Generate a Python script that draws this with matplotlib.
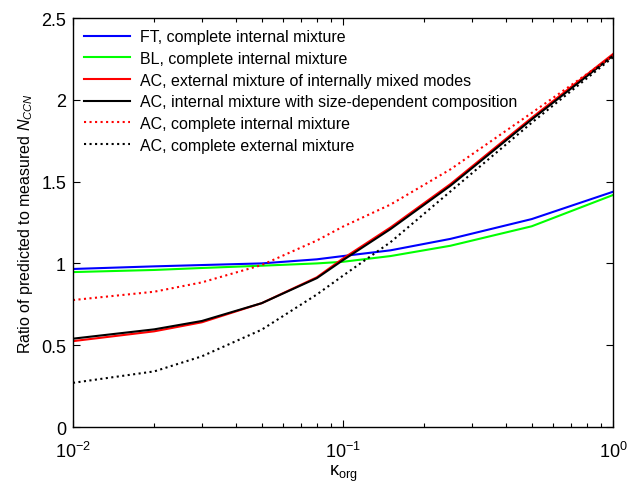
# Ratio of predicted to measured CCN vs kappa_org, MATLAB-look figure
import matplotlib
matplotlib.use('Agg')
import matplotlib.pyplot as plt
from matplotlib.ticker import LogLocator, NullFormatter

plt.rcParams['font.family'] = ['Liberation Sans', 'DejaVu Sans']
plt.rcParams['mathtext.fontset'] = 'custom'
plt.rcParams['mathtext.rm'] = 'Liberation Sans'
plt.rcParams['mathtext.it'] = 'Liberation Sans:italic'

kappa = [0.01, 0.02, 0.03, 0.05, 0.08, 0.1, 0.15, 0.25, 0.5, 1.0]

ft_int = [0.966, 0.982, 0.99, 1.0, 1.025, 1.045, 1.08, 1.15, 1.271, 1.438]
bl_int = [0.947, 0.96, 0.972, 0.986, 1.0, 1.01, 1.045, 1.108, 1.227, 1.418]
ac_ext_modes = [0.525, 0.585, 0.64, 0.757, 0.915, 1.03, 1.22, 1.485, 1.89, 2.28]
ac_size_dep = [0.54, 0.597, 0.648, 0.757, 0.91, 1.02, 1.21, 1.475, 1.88, 2.27]
ac_int = [0.776, 0.827, 0.884, 0.99, 1.14, 1.225, 1.36, 1.575, 1.92, 2.27]
ac_ext = [0.27, 0.34, 0.432, 0.595, 0.81, 0.925, 1.13, 1.44, 1.86, 2.26]

labels = ['FT, complete internal mixture',
          'BL, complete internal mixture',
          'AC, external mixture of internally mixed modes',
          'AC, internal mixture with size-dependent composition',
          'AC, complete internal mixture',
          'AC, complete external mixture']

fig = plt.figure(figsize=(6.27, 4.85), dpi=100)
ax = fig.add_axes([0.1164, 0.1175, 0.8613, 0.8433])

ax.plot(kappa, ft_int, '-', color=(0, 0, 1), lw=1.5, label=labels[0])
ax.plot(kappa, bl_int, '-', color=(0, 1, 0), lw=1.5, label=labels[1])
ax.plot(kappa, ac_ext_modes, '-', color=(1, 0, 0), lw=1.5, label=labels[2])
ax.plot(kappa, ac_size_dep, '-', color='k', lw=1.5, label=labels[3])
ax.plot(kappa, ac_int, ':', color=(1, 0, 0), lw=1.5, label=labels[4])
ax.plot(kappa, ac_ext, ':', color='k', lw=1.5, label=labels[5])

ax.set_xscale('log')
ax.set_xlim(0.01, 1)
ax.set_ylim(0, 2.5)
ax.set_yticks([0, 0.5, 1, 1.5, 2, 2.5])
ax.set_yticklabels(['0', '0.5', '1', '1.5', '2', '2.5'])
ax.set_xticks([0.01, 0.1, 1])
ax.set_xticklabels([r'$10^{-2}$', r'$10^{-1}$', r'$10^{0}$'])
ax.xaxis.set_minor_locator(LogLocator(base=10, subs=range(2, 10)))
ax.xaxis.set_minor_formatter(NullFormatter())

ax.tick_params(which='both', direction='in', top=True, right=True, labelsize=13)
ax.tick_params(which='major', length=5, width=0.8)
ax.tick_params(which='minor', length=3, width=0.8)
ax.tick_params(axis='x', pad=10)
ax.tick_params(axis='y', pad=5)
for s in ax.spines.values():
    s.set_linewidth(1.0)

ax.set_xlabel('κ$_{\\mathrm{org}}$', fontsize=13)
ax.xaxis.set_label_coords(0.5, -0.088)
ax.set_ylabel(r'Ratio of predicted to measured $N_{CCN}$', fontsize=11.5)

ax.legend(loc='upper left', frameon=False, fontsize=11.5, handlelength=2.9,
          handletextpad=0.6, labelspacing=0.42, borderaxespad=0.3,
          bbox_to_anchor=(0.0, 1.0))

fig.savefig('out.png', dpi=100)
